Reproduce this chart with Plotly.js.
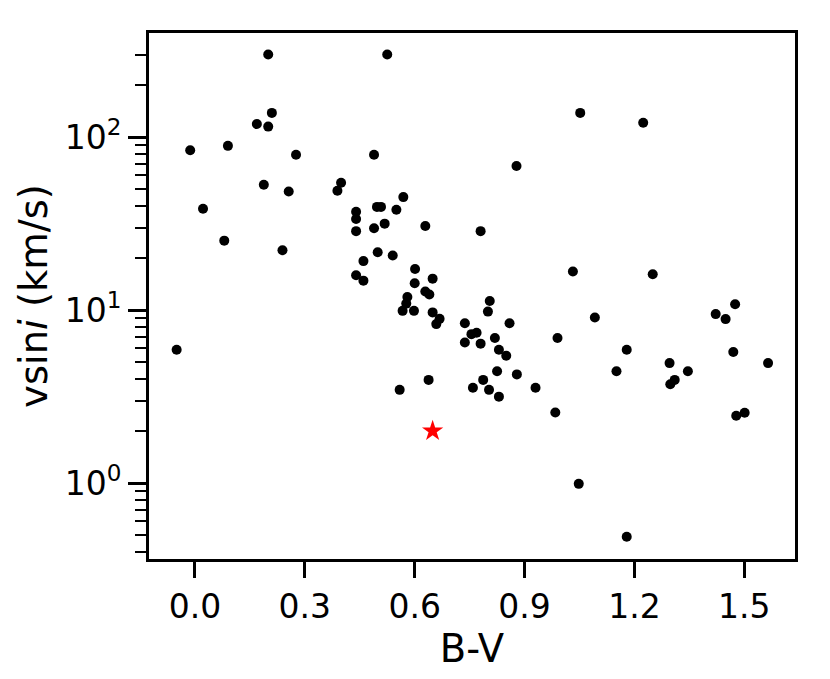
<!DOCTYPE html>
<html>
<head>
<meta charset="utf-8">
<script src="https://cdn.plot.ly/plotly-3.0.1.min.js"></script>
<style>html,body{margin:0;padding:0;background:#fff;}#chart{width:830px;height:679px;}</style>
</head>
<body>
<div id="chart"></div>
<script>
// Sample stars: B-V colour index and projected rotational velocity (km/s)
const bv = [
  0.200, 0.525, 0.210, 0.169, 0.200, -0.013, 0.090, 0.276, 0.489, 0.188,
  0.256, 0.399, 0.389, 0.022, 0.569, 0.497, 0.508, 0.550, 0.440, 0.440,
  0.518, 0.489, 0.440, 0.629, 0.080, 0.239, 0.499, 0.540, 0.460, 0.601,
  0.440, 0.460, 0.649, 0.600, 0.629, 0.640, 0.580, 0.577, 0.567, 0.598,
  0.649, 0.668, 0.659, 0.737, 0.737, -0.050, 0.559, 0.638,
  0.805, 0.800, 0.859, 0.755, 0.769, 0.780, 0.819, 0.830, 0.850, 0.825,
  0.879, 0.787, 0.759, 0.803, 0.830, 0.930, 0.984, 0.990, 1.092, 1.179,
  1.151, 1.048, 1.179, 1.296, 1.346, 1.310, 1.298, 1.422, 1.449, 1.475,
  1.470, 1.565, 1.478, 1.501, 1.052, 1.224, 0.878, 0.780, 1.032, 1.250
];
const vsini = [
  300, 300, 138, 119, 115, 84, 89, 79, 79, 53,
  48.5, 54.5, 49, 38.5, 45, 39.5, 39.5, 38, 37, 33.6,
  31.6, 29.7, 28.6, 30.6, 25.2, 22.2, 21.6, 20.7, 19.2, 17.3,
  15.9, 14.8, 15.2, 14.3, 12.8, 12.3, 11.9, 10.9, 9.9, 9.9,
  9.7, 8.9, 8.3, 8.4, 6.5, 5.9, 3.46, 3.95,
  11.3, 9.8, 8.4, 7.26, 7.4, 6.4, 6.9, 5.9, 5.45, 4.43,
  4.25, 3.95, 3.56, 3.46, 3.16, 3.56, 2.56, 6.9, 9.06, 5.9,
  4.43, 0.99, 0.49, 4.94, 4.43, 3.95, 3.73, 9.48, 8.87, 10.8,
  5.72, 4.94, 2.45, 2.55, 138, 121, 68, 28.6, 16.7, 16.1
];
// Target star
const targetBV = [0.649];
const targetVsini = [2.0];

const majorY = [1, 10, 100];
const majorYText = ['10<sup>0</sup>', '10<sup>1</sup>', '10<sup>2</sup>'];
const minorY = [0.4,0.5,0.6,0.7,0.8,0.9,2,3,4,5,6,7,8,9,20,30,40,50,60,70,80,90,200,300,400];
const xTicks = [0.0, 0.3, 0.6, 0.9, 1.2, 1.5];
const xTickText = ['0.0', '0.3', '0.6', '0.9', '1.2', '1.5'];

const font = 'DejaVu Sans, sans-serif';

const traces = [
  {
    x: bv, y: vsini, type: 'scatter', mode: 'markers',
    marker: {color: '#000000', size: 10, line: {width: 0}},
    showlegend: false, hoverinfo: 'x+y'
  },
  {
    x: targetBV, y: targetVsini, type: 'scatter', mode: 'markers',
    marker: {color: '#ff0000', size: 16, symbol: 'star', line: {width: 0}},
    showlegend: false, hoverinfo: 'x+y'
  }
];

const layout = {
  width: 830, height: 679,
  paper_bgcolor: '#ffffff', plot_bgcolor: '#ffffff',
  margin: {l: 149, r: 34.5, t: 33.2, b: 119.8, pad: 0},
  font: {family: font, color: '#000000', size: 33},
  showlegend: false,
  xaxis: {
    range: [-0.1255, 1.6385],
    tickmode: 'array', tickvals: xTicks, ticktext: xTickText,
    ticks: 'outside', ticklen: 16, tickwidth: 3, tickcolor: '#000',
    showline: true, linewidth: 3, linecolor: '#000', mirror: true,
    showgrid: false, zeroline: false,
    tickfont: {family: font, size: 33, color: '#000'},
    title: {text: 'B-V', font: {family: font, size: 38.5, color: '#000'}, standoff: 8}
  },
  yaxis: {
    type: 'log',
    range: [-0.4387, 2.6017],
    tickmode: 'array', tickvals: majorY, ticktext: majorYText,
    ticks: 'outside', ticklen: 18, tickwidth: 3, tickcolor: '#000',
    minor: {tickmode: 'array', tickvals: minorY, ticks: 'outside', ticklen: 11, tickwidth: 2, tickcolor: '#000', showgrid: false},
    showline: true, linewidth: 3, linecolor: '#000', mirror: true,
    showgrid: false, zeroline: false,
    tickfont: {family: font, size: 33, color: '#000'},
    title: {text: 'vsin<i>i</i> (km/s)', font: {family: font, size: 38.5, color: '#000'}, standoff: 6}
  }
};

Plotly.newPlot('chart', traces, layout, {staticPlot: true, displayModeBar: false});
</script>
</body>
</html>
